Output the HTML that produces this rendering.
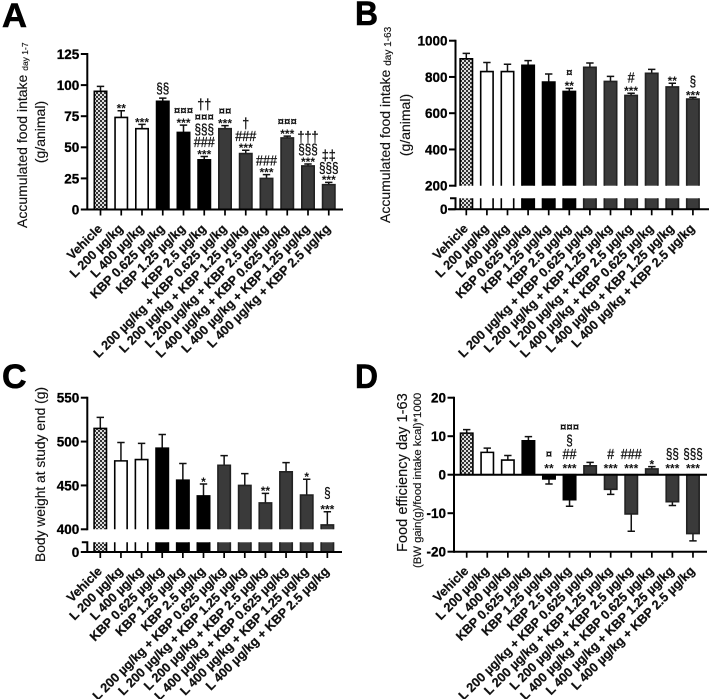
<!DOCTYPE html>
<html lang="en">
<head>
<meta charset="utf-8">
<title>Food intake, body weight and food efficiency</title>
<style>
  html, body { margin: 0; padding: 0; background: #fff; width: 709px; height: 699px; overflow: hidden; }
  svg { display: block; font-family: "Liberation Sans", Arial, sans-serif; filter: blur(0.3px); }
  .letter { font-weight: 700; font-size: 34px; fill: #000; stroke: #000; stroke-width: .6px; }
  .title { font-size: 14px; fill: #111; stroke: #111; stroke-width: .15px; }
  .tick { font-weight: 700; font-size: 13.5px; fill: #000; stroke: #000; stroke-width: .3px; text-anchor: end; }
  .cat { font-weight: 700; font-size: 12.7px; fill: #111; stroke: #111; stroke-width: .25px; text-anchor: end; }
</style>
</head>
<body>
<svg id="figure" xmlns="http://www.w3.org/2000/svg" width="709" height="699" viewBox="0 0 709 699">
  <defs>
    <pattern id="hatch" patternUnits="userSpaceOnUse" width="4" height="4">
      <rect width="4" height="4" fill="#ddd"/>
      <rect x="0" y="0" width="2" height="2" fill="#333"/>
      <rect x="2" y="2" width="2" height="2" fill="#333"/>
    </pattern>
  </defs>
  <text class="letter" x="2" y="27" textLength="25" lengthAdjust="spacingAndGlyphs">A</text>
  <text class="letter" x="355" y="25" textLength="23" lengthAdjust="spacingAndGlyphs">B</text>
  <text class="letter" x="2" y="388">C</text>
  <text class="letter" x="355" y="388" textLength="23" lengthAdjust="spacingAndGlyphs">D</text>

  <text class="title" transform="translate(27 228) rotate(-90)">Accumulated food intake <tspan font-size="8.5" dy="1">day 1-7</tspan></text>
  <text class="title" transform="translate(45 132) rotate(-90)" text-anchor="middle">(g/animal)</text>

  <text class="title" transform="translate(390 223) rotate(-90)">Accumulated food intake <tspan font-size="10" dy="1">day 1-63</tspan></text>
  <text class="title" transform="translate(410 125) rotate(-90)" text-anchor="middle">(g/animal)</text>

  <text class="title" transform="translate(45 562) rotate(-90)" textLength="175" lengthAdjust="spacingAndGlyphs">Body weight at study end (g)</text>

  <text class="title" transform="translate(407 552) rotate(-90)" style="font-size:14.6px">Food efficiency day 1-63</text>
  <text class="title" transform="translate(421 568) rotate(-90)" style="font-size:11.3px">(BW gain(g)/food intake kcal)*1000</text>
</svg>

<script>
const categories = ["Vehicle", "L 200 µg/kg", "L 400 µg/kg", "KBP 0.625 µg/kg", "KBP 1.25 µg/kg", "KBP 2.5 µg/kg",
  "L 200 µg/kg + KBP 0.625 µg/kg", "L 200 µg/kg + KBP 1.25 µg/kg", "L 200 µg/kg + KBP 2.5 µg/kg",
  "L 400 µg/kg + KBP 0.625 µg/kg", "L 400 µg/kg + KBP 1.25 µg/kg", "L 400 µg/kg + KBP 2.5 µg/kg"];
const groupStyles = ["hatched", "white", "white", "black", "black", "black", "gray", "gray", "gray", "gray", "gray", "gray"];

const intakeWeekTicks = [0, 25, 50, 75, 100, 125];
const intakeWeekMeans = [95, 74, 65, 87, 62, 40, 65, 45, 25, 57.5, 35, 20];
const intakeWeekErrorTops = [99, 79.4, 68.4, 89.5, 67.8, 42.6, 67.4, 47.6, 28, 59, 36.6, 21.8];
const intakeWeekMarks = [[], ["**"], ["***"], ["§§"], ["***", "¤¤¤"], ["***", "###", "§§§", "¤¤¤", "††"],
  ["***", "¤¤"], ["***", "###", "†"], ["***", "###"], ["***", "¤¤¤"], ["***", "§§§", "†††"], ["***", "§§§", "‡‡"]];

const intakeTotalTicks = [0, 200, 400, 600, 800, 1000];
const intakeTotalMeans = [900, 830, 830, 864, 772, 720, 853, 775, 698, 820, 745, 678];
const intakeTotalErrorTops = [930, 880, 870, 890, 816, 737, 877, 803, 710, 842, 765, 687];
const intakeTotalMarks = [[], [], [], [], [], ["**", "¤"], [], [], ["***", "#"], [], ["**"], ["***", "§"]];

const weightTicks = [0, 400, 450, 500, 550];
const weightMeans = [515, 478, 479.5, 492.5, 456, 438, 473, 450, 430, 465.5, 439, 405];
const weightErrorTops = [527.6, 499, 498, 508, 475, 451.7, 484, 463.4, 441, 476, 457, 420];
const weightMarks = [[], [], [], [], [], ["*"], [], [], ["**"], [], ["*"], ["***", "§"]];

const efficiencyTicks = [-20, -10, 0, 10, 20];
const efficiencyMeans = [10.8, 5.8, 3.8, 8.8, -1.1, -6.5, 2.3, -3.8, -10.2, 1.5, -7, -15.3];
const efficiencyErrorEnds = [11.7, 6.9, 5, 9.9, -2.4, -8.2, 3.2, -5.1, -14.7, 2.1, -8, -17.2];
const efficiencyMarks = [[], [], [], [], ["**", "¤"], ["***", "##", "§", "¤¤¤"], [], ["***", "#"], ["***", "###"], ["*"], ["***", "§§"], ["***", "§§§"]];

const SVG_NS = "http://www.w3.org/2000/svg";
const figure = document.getElementById("figure");

function shape(parent, tag, attrs, text) {
  const node = document.createElementNS(SVG_NS, tag);
  for (const key in attrs) node.setAttribute(key, attrs[key]);
  if (text !== undefined) node.textContent = text;
  parent.appendChild(node);
  return node;
}

function linearScale(v0, y0, v1, y1) {
  return v => y0 + (v - v0) * (y1 - y0) / (v1 - v0);
}

function symbolAdvance(ch) {
  if (ch === "§") return 6.5;
  return 7;
}

function drawPanel(p) {
  const group = shape(figure, "g", {});
  
  

  const xOf = i => p.firstX + i * p.stepX;
  const upper = linearScale(p.v0, p.y0, p.v1, p.y1);
  const yOf = v => (p.breakAt && v === 0) ? p.zeroY : upper(v);
  const baseLine = p.breakAt ? p.breakAt : upper(0);
  const half = 6.2;

  // bars
  p.means.forEach((value, i) => {
    const style = groupStyles[i];
    const fill = style === "hatched" ? "url(#hatch)" : style === "white" ? "#fff" : style === "black" ? "#000" : "#3a3a3a";
    const edge = style === "gray" ? "#222" : "#000";
    const top = yOf(value);
    const x = xOf(i);

    const errTop = yOf(p.errors[i]);
    const errLine = shape(group, "path", {
      d: "M" + x + " " + top + "V" + errTop + "M" + (x - 3.7) + " " + errTop + "H" + (x + 3.7),
      fill: "none", stroke: "#111", "stroke-width": 1.5
    });
    
    

    const y1 = Math.min(top, baseLine), y2 = Math.max(top, baseLine);
    const barFill = shape(group, "rect", { x: x - half, y: y1, width: half * 2, height: y2 - y1, fill: fill });
    
    

    const outlinePath = p.breakAt
      ? "M" + (x - half) + " " + baseLine + "V" + top + "H" + (x + half) + "V" + baseLine
      : "M" + (x - half) + " " + baseLine + "V" + top + "H" + (x + half) + "V" + baseLine + "Z";
    const outline = shape(group, "path", { d: outlinePath, fill: "none", stroke: edge, "stroke-width": 1.6 });
    
    

    if (p.breakAt) {
      const stub = shape(group, "rect", { x: x - half, y: p.resumeAt, width: half * 2, height: p.zeroY - p.resumeAt, fill: fill });
      
      
      const stubEdge = shape(group, "path", {
        d: "M" + (x - half) + " " + p.zeroY + "V" + p.resumeAt + "M" + (x + half) + " " + p.resumeAt + "V" + p.zeroY,
        fill: "none", stroke: edge, "stroke-width": 1.6
      });
      
      
    }

    // significance marks stacked above the bar
    const anchor = value >= 0 ? errTop : upper(0) - 4;
    let centre = anchor;
    p.marks[i].forEach((mark, k) => {
      const isStar = mark[0] === "*";
      const isCurrency = mark[0] === "¤";
      if (k === 0) centre -= isStar ? 5 : 10;
      else centre -= p.marks[i][k - 1][0] === "*" ? p.starGap : p.symbolGap;
      const size = isStar ? 12 : isCurrency ? 11.5 : 14.5;
      const baseline = centre + (isStar ? 0.57 : isCurrency ? 0.35 : 0.36) * size;
      const attrs = {
        x: x, y: baseline, "text-anchor": "middle",
        "font-size": size, "font-weight": (isStar || isCurrency) ? 700 : 400, fill: "#111"
      };
      if (!isStar && !isCurrency) {
        attrs.textLength = mark.length * symbolAdvance(mark[0]);
        attrs.lengthAdjust = "spacingAndGlyphs";
        attrs.stroke = "#111";
        attrs["stroke-width"] = 0.3;
      }
      const markText = shape(group, "text", attrs, mark);
      
      
    });

    // x tick and category label
    const tick = shape(group, "line", { x1: x, x2: x, y1: p.axisY, y2: p.axisY + 6, stroke: "#000", "stroke-width": 1.7 });
    
    

    const lx = x + 2.5, ly = p.axisY + 20;
    const label = shape(group, "text", { class: "cat", transform: "translate(" + lx + " " + ly + ") rotate(-45)" }, categories[i]);
    
    
  });

  // y axis
  const yTop = yOf(p.ticks[p.ticks.length - 1]);
  const yBottom = p.breakAt ? p.breakAt : p.axisY;
  const yAxis = shape(group, "line", { x1: p.axisX, x2: p.axisX, y1: yTop - 1, y2: yBottom + 1, stroke: "#000", "stroke-width": 2 });
  
  

  if (p.breakAt) {
    const lowerAxis = shape(group, "path", {
      d: "M" + p.axisX + " " + p.zeroY + "V" + p.resumeAt + "H" + (p.axisX - 5.5),
      fill: "none", stroke: "#000", "stroke-width": 2
    });
    
    
  }

  p.ticks.forEach(v => {
    const y = yOf(v);
    const tick = shape(group, "line", { x1: p.axisX - 6.5, x2: p.axisX, y1: y, y2: y, stroke: "#000", "stroke-width": 2 });
    
    
    const label = shape(group, "text", { class: "tick", x: p.axisX - 8, y: y + 4.9 }, String(v));
    
    
  });

  // x axis
  const xAxis = shape(group, "line", { x1: p.axisStart, x2: p.axisEnd, y1: p.axisY, y2: p.axisY, stroke: "#000", "stroke-width": 2 });
  
  

  if (p.zeroLine) {
    const zero = shape(group, "line", { x1: p.axisX, x2: p.axisEnd, y1: upper(0), y2: upper(0), stroke: "#000", "stroke-width": 2 });
    
    
  }
}

drawPanel({
  id: "a", means: intakeWeekMeans, errors: intakeWeekErrorTops, marks: intakeWeekMarks, ticks: intakeWeekTicks,
  v0: 0, y0: 209.5, v1: 125, y1: 54,
  axisX: 87.3, axisY: 209.5, axisStart: 81, axisEnd: 343, firstX: 100.5, stepX: 20.75,
  starGap: 9.5, symbolGap: 12.6
});
drawPanel({
  id: "b", means: intakeTotalMeans, errors: intakeTotalErrorTops, marks: intakeTotalMarks, ticks: intakeTotalTicks,
  v0: 200, y0: 185.7, v1: 1000, y1: 40.7,
  breakAt: 185.7, resumeAt: 198.3, zeroY: 209.3,
  axisX: 455.5, axisY: 209.3, axisStart: 448, axisEnd: 709, firstX: 466.3, stepX: 20.6,
  starGap: 11, symbolGap: 12.6
});
drawPanel({
  id: "c", means: weightMeans, errors: weightErrorTops, marks: weightMarks, ticks: weightTicks,
  v0: 400, y0: 529.3, v1: 550, y1: 397.7,
  breakAt: 529.3, resumeAt: 542.3, zeroY: 552,
  axisX: 87.3, axisY: 552, axisStart: 82, axisEnd: 342, firstX: 100.3, stepX: 20.64,
  starGap: 14, symbolGap: 12.6
});
drawPanel({
  id: "d", means: efficiencyMeans, errors: efficiencyErrorEnds, marks: efficiencyMarks, ticks: efficiencyTicks,
  v0: 20, y0: 397.7, v1: -20, y1: 551.7,
  zeroLine: true,
  axisX: 454, axisY: 551.7, axisStart: 454, axisEnd: 707, firstX: 466.7, stepX: 20.57,
  starGap: 11.7, symbolGap: 13.5
});
</script>
</body>
</html>
